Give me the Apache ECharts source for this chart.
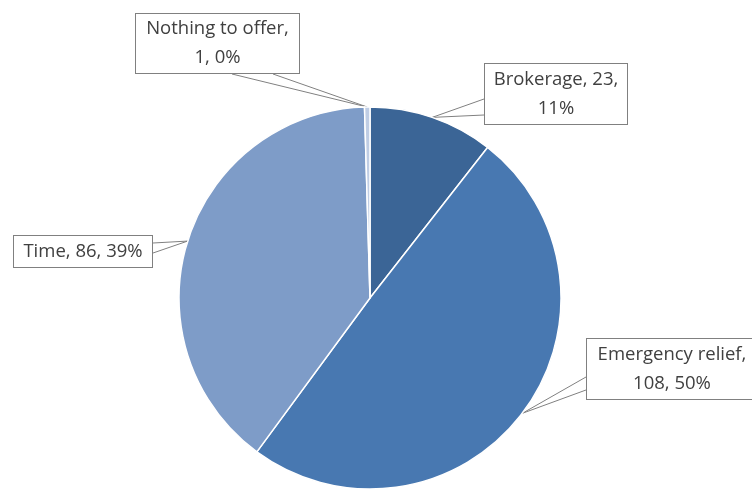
<!DOCTYPE html>
<html><head><meta charset="utf-8">
<script src="https://cdn.jsdelivr.net/npm/echarts@6/dist/echarts.min.js"></script>
<style>html,body{margin:0;padding:0;background:#fff}#c{width:752px;height:491px}</style>
</head><body><div id="c"></div>
<script>
var categories = ['Brokerage', 'Emergency relief', 'Time', 'Nothing to offer'];
var values = [23, 108, 86, 1];
var percentLabels = ['11%', '50%', '39%', '0%'];
var labelTexts = ['Brokerage, 23,\n11%', 'Emergency relief,\n108, 50%', 'Time, 86, 39%', 'Nothing to offer,\n1, 0%'];
var colors = ['#3B6596', '#4878B1', '#7E9CC8', '#BFCDE4'];

// label box layout (centre x, centre y, width, height), wedge side
var boxes = [
  {cx: 556, cy: 94, w: 144, h: 62, side: 'left', b: [99, 115]},
  {cx: 672, cy: 369, w: 172, h: 62, side: 'left', b: [377, 390]},
  {cx: 83, cy: 251.5, w: 140, h: 33, side: 'right', b: [243, 253]},
  {cx: 217.5, cy: 43.5, w: 165, h: 61, side: 'bottom', b: [232, 273]}
];

var data = categories.map(function (c, i) {
  return {
    name: c, value: values[i],
    itemStyle: {color: colors[i]},
    label: {width: boxes[i].w - 2, height: boxes[i].h - 2}
  };
});

var chart = echarts.init(document.getElementById('c'), null, {renderer: 'canvas'});
chart.setOption({
  animation: false,
  series: [{
    type: 'pie',
    center: [370, 298],
    radius: 191,
    startAngle: 90,
    clockwise: true,
    data: data,
    itemStyle: {borderColor: '#fff', borderWidth: 1.5},
    label: {
      show: true,
      position: 'outside',
      formatter: function (p) { return labelTexts[p.dataIndex]; },
      fontFamily: '"Open Sans", Lato, sans-serif',
      fontSize: 18.5,
      lineHeight: 29,
      color: '#404040',
      align: 'center',
      verticalAlign: 'middle',
      backgroundColor: '#fff',
      borderColor: '#808080',
      borderWidth: 1,
      padding: 0
    },
    labelLine: {show: true, lineStyle: {color: '#808080', width: 1}},
    labelLayout: function (p) {
      var bx = boxes[p.dataIndex];
      var a = p.labelLinePoints ? p.labelLinePoints[0] : [0, 0];
      var pts;
      var l = bx.cx - bx.w / 2, r = bx.cx + bx.w / 2, t = bx.cy - bx.h / 2, btm = bx.cy + bx.h / 2;
      if (bx.side === 'left') pts = [[l, bx.b[0]], a, [l, bx.b[1]]];
      else if (bx.side === 'right') pts = [[r, bx.b[0]], a, [r, bx.b[1]]];
      else pts = [[bx.b[0], btm], a, [bx.b[1], btm]];
      return {
        x: bx.cx, y: bx.cy, align: 'center', verticalAlign: 'middle',
        labelLinePoints: pts
      };
    }
  }]
});
</script></body></html>
